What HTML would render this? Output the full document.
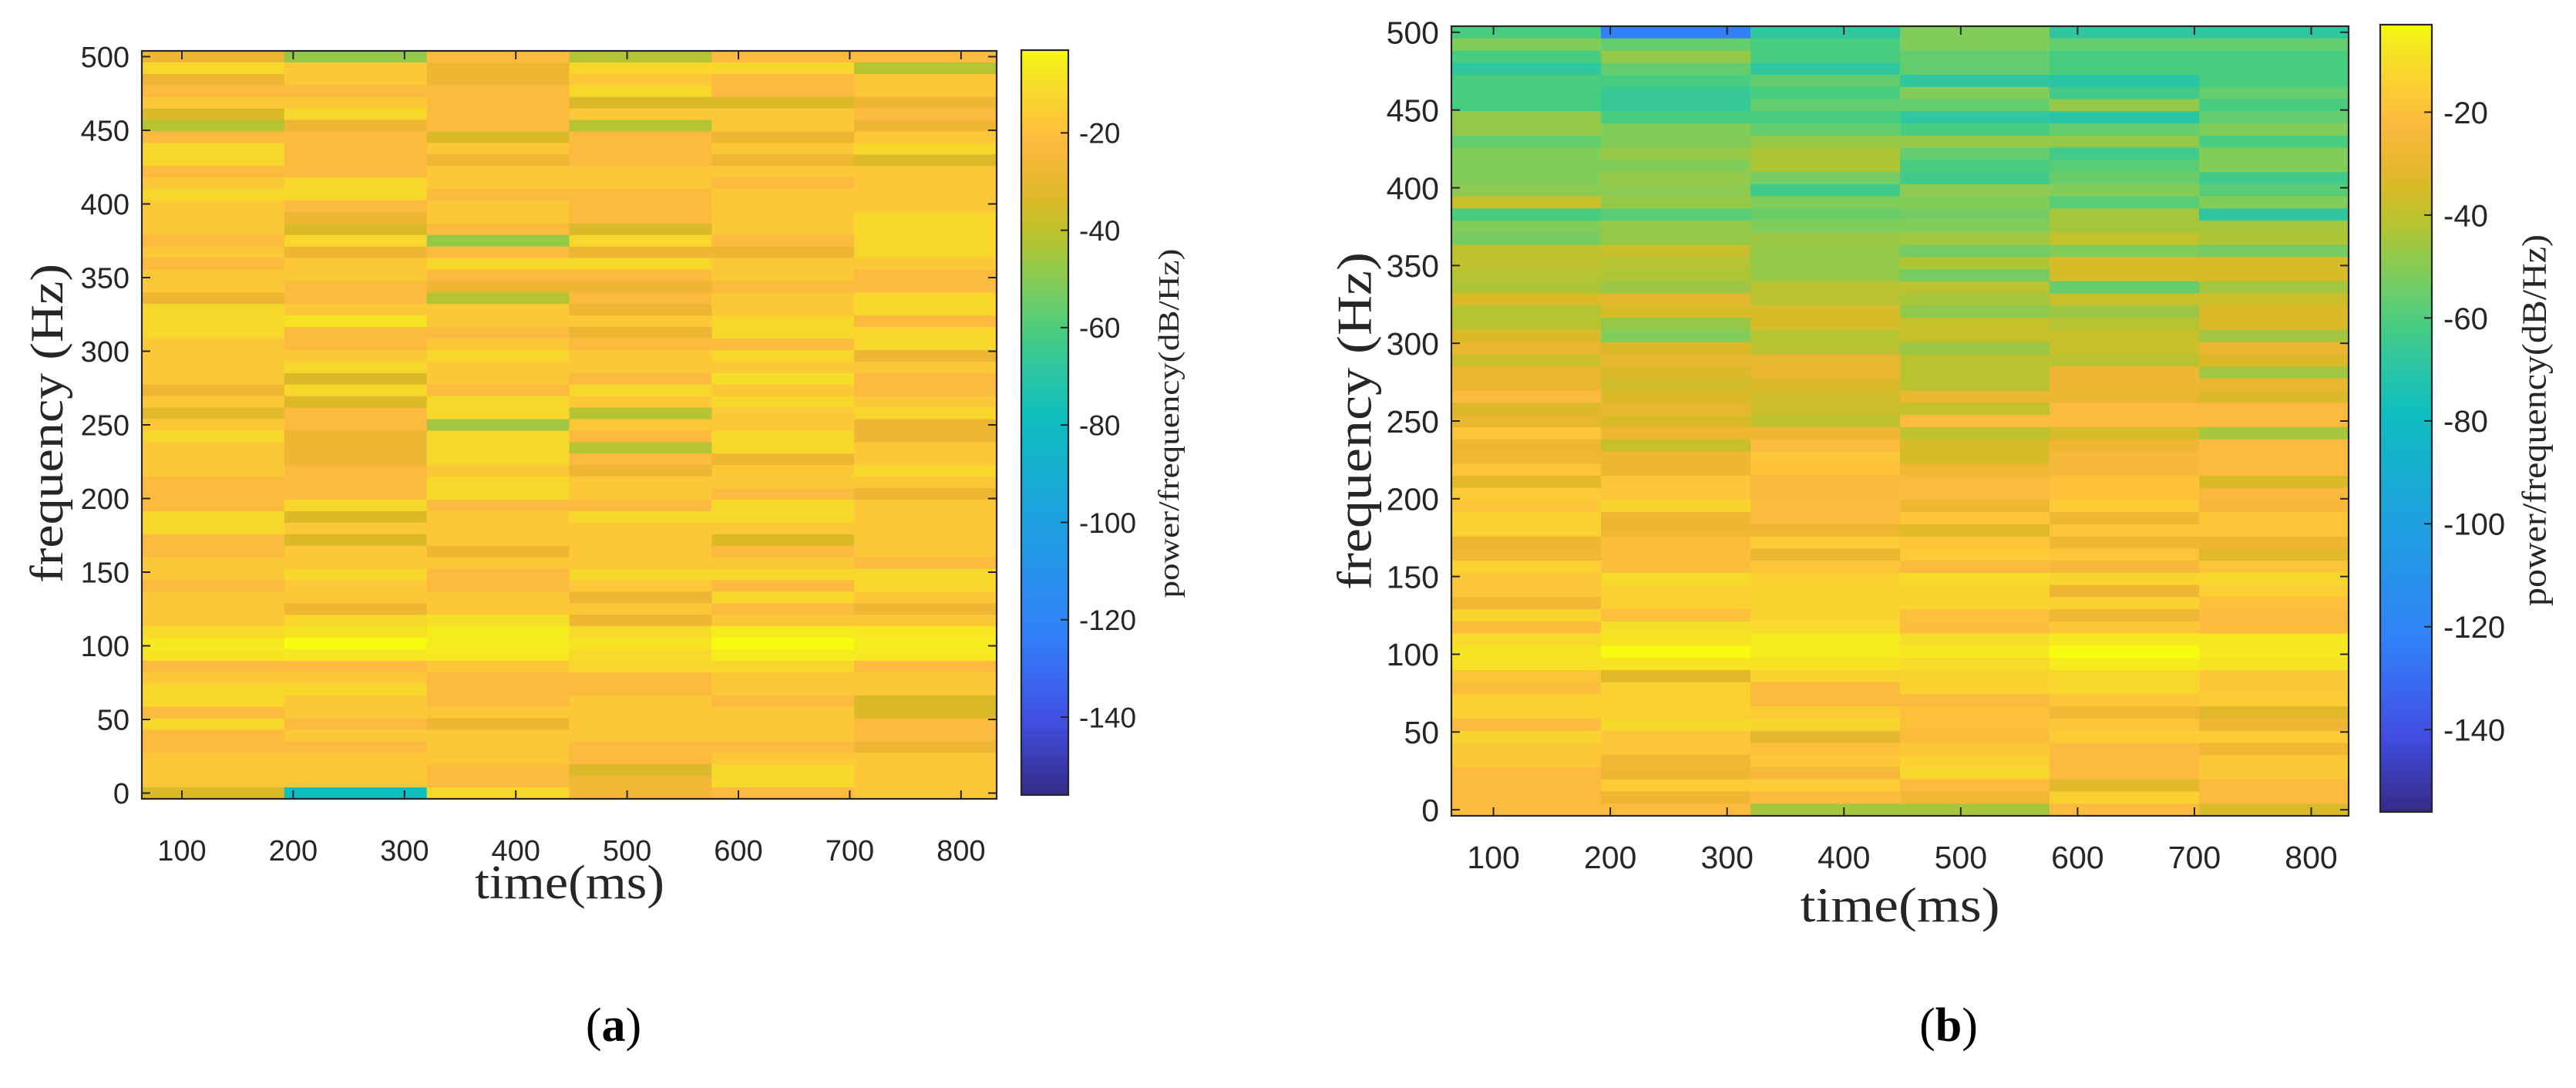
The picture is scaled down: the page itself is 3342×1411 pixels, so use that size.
<!DOCTYPE html>
<html><head><meta charset="utf-8"><style>
html,body{margin:0;padding:0;background:#fff;}
svg{display:block;}
</style></head><body>
<svg id="fig" xmlns="http://www.w3.org/2000/svg" width="3342" height="1411" viewBox="0 0 3342 1411">
<rect width="3342" height="1411" fill="#fff"/>
</svg>
<script>
// time bins (ms, centers) shared by both panels
const timeBins = [128, 256, 384, 512, 640, 768];
// frequency bins: 65 bins from 500 Hz (first row) down to 0 Hz (last row), step 7.8125 Hz
const freqStep = 7.8125;
const nFreq = 65;
const xTicks = [100, 200, 300, 400, 500, 600, 700, 800];
const yTicks = [0, 50, 100, 150, 200, 250, 300, 350, 400, 450, 500];
const cbTicks = [-20, -40, -60, -80, -100, -120, -140];
const clim = [-156, -3];

// Panel (a) power values in dB/Hz; each row = one frequency bin (top=500 Hz), 6 time columns
const powerA = [
[-28,-47,-22,-42,-22,-22],[-12,-17,-28,-12,-12,-42],[-28,-17,-28,-17,-22,-17],[-22,-22,-22,-12,-22,-17],
[-17,-17,-22,-34,-34,-28],[-34,-12,-22,-17,-17,-22],[-42,-28,-22,-42,-17,-28],[-22,-22,-34,-22,-28,-17],
[-12,-22,-17,-22,-17,-12],[-12,-22,-28,-22,-28,-34],[-22,-22,-17,-17,-17,-17],[-17,-12,-17,-17,-22,-17],
[-12,-12,-22,-22,-17,-17],[-17,-22,-17,-22,-17,-17],[-17,-28,-17,-22,-17,-12],[-17,-34,-22,-34,-17,-12],
[-22,-12,-47,-12,-22,-12],[-17,-28,-22,-28,-28,-12],[-22,-17,-12,-12,-17,-17],[-17,-17,-22,-22,-17,-22],
[-17,-22,-28,-28,-22,-22],[-28,-22,-42,-22,-17,-12],[-12,-17,-17,-28,-17,-12],[-12,-8,-17,-17,-12,-22],
[-12,-22,-22,-28,-12,-12],[-17,-22,-17,-22,-22,-12],[-17,-17,-12,-17,-12,-28],[-17,-12,-17,-17,-17,-17],
[-17,-34,-17,-22,-10,-22],[-28,-12,-22,-12,-17,-22],[-17,-33,-12,-17,-12,-17],[-32,-22,-12,-42,-17,-12],
[-17,-22,-45,-17,-17,-28],[-12,-28,-12,-22,-12,-28],[-17,-28,-12,-42,-12,-17],[-17,-28,-12,-22,-28,-17],
[-17,-22,-17,-28,-17,-12],[-22,-22,-12,-17,-17,-17],[-22,-22,-12,-17,-22,-28],[-22,-12,-22,-22,-12,-17],
[-12,-34,-17,-12,-12,-17],[-12,-17,-17,-17,-17,-17],[-22,-34,-17,-17,-34,-17],[-22,-17,-28,-17,-22,-17],
[-17,-17,-17,-17,-17,-22],[-17,-12,-22,-12,-12,-12],[-22,-17,-22,-17,-22,-12],[-17,-17,-17,-28,-12,-17],
[-17,-28,-17,-17,-22,-28],[-17,-12,-10,-28,-17,-17],[-11,-8,-6,-11,-6,-7],[-7,-3,-6,-8,-3,-6],
[-8,-7,-7,-11,-6,-7],[-22,-22,-17,-12,-12,-22],[-17,-17,-22,-22,-17,-17],[-12,-12,-22,-22,-17,-17],
[-12,-17,-22,-17,-22,-34],[-22,-17,-17,-17,-17,-34],[-12,-22,-28,-17,-17,-22],[-22,-17,-17,-17,-17,-22],
[-22,-22,-17,-22,-22,-28],[-17,-17,-17,-22,-17,-17],[-17,-17,-22,-34,-12,-17],[-17,-17,-22,-26,-12,-17],
[-34,-78,-12,-26,-22,-17]
];

// Panel (b) power values in dB/Hz
const powerB = [
[-61,-123,-68,-51,-68,-68],[-51,-56,-61,-51,-56,-56],[-61,-47,-61,-56,-61,-61],[-68,-56,-68,-56,-61,-61],
[-61,-61,-56,-68,-70,-61],[-61,-66,-61,-51,-63,-56],[-61,-66,-56,-56,-47,-61],[-47,-61,-61,-68,-70,-56],
[-47,-51,-56,-61,-56,-51],[-56,-51,-47,-47,-47,-61],[-51,-47,-43,-56,-63,-51],[-51,-51,-43,-61,-58,-51],
[-51,-47,-53,-63,-55,-63],[-49,-49,-63,-49,-51,-58],[-38,-47,-51,-51,-58,-51],[-61,-58,-55,-53,-44,-68],
[-51,-47,-51,-51,-44,-44],[-53,-47,-46,-45,-39,-43],[-40,-38,-47,-53,-51,-53],[-40,-42,-47,-43,-35,-35],
[-42,-43,-47,-53,-35,-35],[-43,-46,-41,-41,-56,-45],[-34,-31,-41,-44,-38,-37],[-42,-35,-35,-48,-46,-34],
[-41,-47,-35,-38,-42,-34],[-34,-51,-42,-38,-38,-45],[-29,-33,-41,-46,-38,-29],[-37,-30,-30,-41,-41,-33],
[-29,-34,-29,-41,-28,-45],[-29,-36,-34,-41,-28,-29],[-22,-34,-36,-29,-29,-34],[-33,-30,-37,-39,-22,-22],
[-30,-34,-40,-22,-22,-22],[-18,-28,-28,-40,-35,-44],[-28,-38,-22,-35,-28,-22],[-27,-28,-18,-35,-24,-22],
[-18,-28,-19,-27,-24,-22],[-32,-18,-23,-22,-19,-34],[-16,-18,-23,-22,-19,-23],[-18,-13,-22,-28,-16,-24],
[-14,-28,-22,-18,-28,-18],[-14,-28,-28,-32,-18,-18],[-28,-21,-16,-18,-28,-28],[-26,-21,-29,-16,-18,-32],
[-14,-21,-18,-22,-25,-18],[-18,-11,-14,-11,-13,-12],[-18,-14,-13,-13,-28,-15],[-26,-14,-13,-13,-14,-20],
[-13,-20,-13,-20,-27,-22],[-21,-10,-11,-21,-17,-21],[-11,-8,-6,-10,-7,-7],[-8,-3,-6,-7,-3,-7],
[-9,-8,-8,-11,-6,-8],[-18,-32,-13,-13,-12,-17],[-21,-14,-22,-14,-12,-17],[-14,-14,-22,-22,-18,-16],
[-14,-14,-16,-20,-26,-32],[-22,-12,-13,-20,-18,-28],[-13,-18,-31,-21,-16,-16],[-17,-18,-20,-17,-22,-26],
[-17,-26,-18,-14,-22,-17],[-22,-28,-24,-12,-22,-17],[-22,-16,-16,-22,-32,-22],[-22,-28,-22,-26,-14,-22],
[-22,-22,-44,-44,-22,-34]
];

// colormap (parula-like) stops: dB -> rgb
const cmapStops = [
[-156,[53,42,135]],[-140,[65,80,230]],[-123,[50,128,248]],[-100,[30,160,225]],[-78,[15,190,190]],
[-68,[48,198,160]],[-61,[72,204,128]],[-56,[100,205,110]],[-51,[130,204,90]],[-47,[150,200,72]],
[-42,[180,196,50]],[-38,[200,192,42]],[-34,[218,186,40]],[-28,[238,182,50]],[-22,[252,186,62]],
[-17,[253,200,55]],[-12,[248,215,45]],[-6,[245,235,30]],[-3,[248,250,15]]
];
function cmap(v){
  if(v<=cmapStops[0][0]) return 'rgb('+cmapStops[0][1].join(',')+')';
  for(let i=1;i<cmapStops.length;i++){
    if(v<=cmapStops[i][0]){
      const [a,ca]=cmapStops[i-1],[b,cb]=cmapStops[i];
      const t=(v-a)/(b-a);
      return 'rgb('+ca.map((c,j)=>Math.round(c+(cb[j]-c)*t)).join(',')+')';
    }
  }
  return 'rgb('+cmapStops[cmapStops.length-1][1].join(',')+')';
}

const NS='http://www.w3.org/2000/svg';
const svg=document.getElementById('fig');
function mk(tag,attrs,parent,text){
  const e=document.createElementNS(NS,tag);
  for(const k in attrs) e.setAttribute(k,attrs[k]);
  if(text!==undefined) e.textContent=text;
  (parent||svg).appendChild(e);
  return e;
}

function drawPanel(P,data,id){
  const g=mk('g',{});
  
  
  const x0=64,x1=832,y0=-freqStep/2,y1=500+freqStep/2;
  const sx=v=>P.L+(v-x0)/(x1-x0)*(P.R-P.L);
  const sy=v=>P.B-(v-y0)/(y1-y0)*(P.B-P.T);
  const tw=128;
  const cells=mk('g',{},g);
  
  
  for(let k=0;k<nFreq;k++){
    const f=(nFreq-1-k)*freqStep;
    for(let c=0;c<timeBins.length;c++){
      const xa=sx(timeBins[c]-tw/2), xb=sx(timeBins[c]+tw/2);
      const ya=sy(f+freqStep/2), yb=sy(f-freqStep/2);
      const r=mk('rect',{x:xa,y:ya,width:xb-xa+0.6,height:yb-ya+0.6,fill:cmap(data[k][c])},cells);
      
      
    }
  }
  const box=mk('rect',{x:P.L,y:P.T,width:P.R-P.L,height:P.B-P.T,fill:'none',stroke:'#262626','stroke-width':2.2},g);
  
  
  const tl=11;
  xTicks.forEach(t=>{
    const x=sx(t);
    mk('line',{x1:x,y1:P.B,x2:x,y2:P.B-tl,stroke:'#262626','stroke-width':2},g);
    mk('line',{x1:x,y1:P.T,x2:x,y2:P.T+tl,stroke:'#262626','stroke-width':2},g);
    const lb=mk('text',{x:x,y:P.xlBase,'text-anchor':'middle','font-family':'Liberation Sans, sans-serif','font-size':P.fs,fill:'#262626'},g,String(t));
    
    
  });
  yTicks.forEach(t=>{
    const y=sy(t);
    mk('line',{x1:P.L,y1:y,x2:P.L+tl,y2:y,stroke:'#262626','stroke-width':2},g);
    mk('line',{x1:P.R,y1:y,x2:P.R-tl,y2:y,stroke:'#262626','stroke-width':2},g);
    const lb=mk('text',{x:P.L-16,y:y+P.fs*0.36,'text-anchor':'end','font-family':'Liberation Sans, sans-serif','font-size':P.fs,fill:'#262626'},g,String(t));
    
    
  });
  const cb=mk('g',{},g);
  
  
  const cy=v=>P.cbB-(v-clim[0])/(clim[1]-clim[0])*(P.cbB-P.cbT);
  const n=200;
  for(let i=0;i<n;i++){
    const va=clim[0]+(clim[1]-clim[0])*i/n, vb=clim[0]+(clim[1]-clim[0])*(i+1)/n;
    mk('rect',{x:P.cbL,y:cy(vb),width:P.cbR-P.cbL,height:cy(va)-cy(vb)+0.6,fill:cmap((va+vb)/2)},cb);
  }
  mk('rect',{x:P.cbL,y:P.cbT,width:P.cbR-P.cbL,height:P.cbB-P.cbT,fill:'none',stroke:'#262626','stroke-width':2.2},cb);
  cbTicks.forEach(t=>{
    const y=cy(t);
    mk('line',{x1:P.cbR,y1:y,x2:P.cbR-10,y2:y,stroke:'#262626','stroke-width':2},cb);
    const lb=mk('text',{x:P.cbLab,y:y+P.cbfs*0.36,'font-family':'Liberation Sans, sans-serif','font-size':P.cbfs,fill:'#262626'},cb,String(t));
    
    
  });
  const cl=mk('text',{x:0,y:0,transform:'translate('+P.cbTitleX+','+P.cbTitleY+') rotate(-90)','text-anchor':'middle','dominant-baseline':'central','font-family':'Liberation Serif, serif','font-size':P.cbTitleFs,fill:'#262626',textLength:P.cbTitleLen,lengthAdjust:'spacingAndGlyphs'},cb,'power/frequency(dB/Hz)');
  
  
  const yl=mk('text',{x:0,y:0,transform:'translate('+P.ylX+','+P.ylY+') rotate(-90)','text-anchor':'middle','dominant-baseline':'central','font-family':'Liberation Serif, serif','font-size':P.ylFs,fill:'#262626',textLength:P.ylLen,lengthAdjust:'spacingAndGlyphs'},g,'frequency (Hz)');
  
  
  const xl=mk('text',{x:P.xlX,y:P.xlY,'text-anchor':'middle','font-family':'Liberation Serif, serif','font-size':P.xlFs,fill:'#262626',textLength:P.xlLen,lengthAdjust:'spacingAndGlyphs'},g,'time(ms)');
  
  
  const pl=mk('text',{x:P.capX,y:1350,'text-anchor':'middle','font-family':'Liberation Serif, serif','font-size':62,fill:'#000'},g);
  
  
  mk('tspan',{},pl,'(');
  mk('tspan',{'font-weight':'bold'},pl,id);
  mk('tspan',{},pl,')');
}

drawPanel({L:184,R:1293,T:66,B:1036,fs:38,xlBase:1116,
  cbL:1325,cbR:1386,cbT:65,cbB:1031,cbLab:1400,cbfs:37,
  cbTitleX:1517,cbTitleY:549,cbTitleFs:38,cbTitleLen:453,
  ylX:61,ylY:549,ylFs:60,ylLen:414,
  xlX:739,xlY:1165,xlFs:62,xlLen:246,capX:796},powerA,'a');

drawPanel({L:1883,R:3047,T:34,B:1058,fs:41,xlBase:1126,
  cbL:3088,cbR:3155,cbT:32,cbB:1053,cbLab:3170,cbfs:40,
  cbTitleX:3288,cbTitleY:545,cbTitleFs:44,cbTitleLen:482,
  ylX:1757,ylY:546,ylFs:64,ylLen:438,
  xlX:2465,xlY:1195,xlFs:64,xlLen:259,capX:2528},powerB,'b');
</script>
</body></html>
